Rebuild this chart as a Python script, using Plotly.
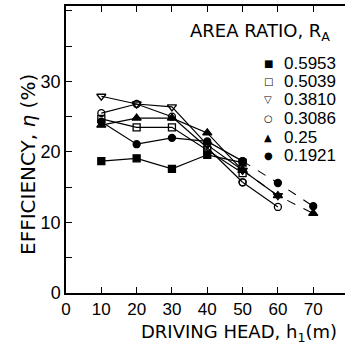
import plotly.graph_objects as go

# ---- data ----
heads = [10, 20, 30, 40, 50, 60, 70]
area_ratio_labels = ["0.5953", "0.5039", "0.3810", "0.3086", "0.25", "0.1921"]
eff_05953 = [18.7, 19.1, 17.6, 19.6, 18.5]
eff_05039 = [24.7, 23.5, 23.5, 20.3, 17.0]
eff_03810 = [27.9, 26.8, 26.4, 21.0, 17.4, 13.8]
eff_03086 = [25.5, 26.8, 25.0, 20.6, 15.7, 12.2]
eff_025 = [23.8, 24.8, 24.8, 22.7, 17.4, 13.8, 11.3]
eff_01921 = [24.3, 21.1, 22.0, 21.5, 18.7, 15.6, 12.3]
x_ticks = [0, 10, 20, 30, 40, 50, 60, 70]
y_ticks = [0, 10, 20, 30]

series = [
    (eff_05953, "square"),
    (eff_05039, "square-open"),
    (eff_03810, "triangle-down-open"),
    (eff_03086, "circle-open"),
    (eff_025, "triangle-up"),
    (eff_01921, "circle"),
]
legend_glyphs = ["■", "□", "▽", "○", "▲", "●"]

W, H = 345, 351
ML, MR, MT, MB = 66, 0, 6, 58
PW, PH = W - ML - MR, H - MT - MB


def px(x):
    return (x - ML) / PW


def py(y):
    return (H - MB - y) / PH


fig = go.Figure()
for vals, sym in series:
    n = len(vals)
    solid_n = min(n, 5)
    msize = 8 if "triangle" in sym else 7
    fig.add_trace(go.Scatter(
        x=heads[:solid_n], y=vals[:solid_n], mode="lines+markers",
        line=dict(color="black", width=1.2),
        marker=dict(symbol=sym, size=msize, color="black",
                    line=dict(color="black", width=1.3)),
        showlegend=False, cliponaxis=False))
    if n > 5:
        is_dashed = vals is eff_025 or vals is eff_01921
        fig.add_trace(go.Scatter(
            x=heads[4:n], y=vals[4:n], mode="lines+markers",
            line=dict(color="black", width=1.1, dash="dash" if is_dashed else "solid"),
            marker=dict(symbol=sym, size=msize, color="black",
                        line=dict(color="black", width=1.3)),
            showlegend=False, cliponaxis=False))

font_main = "Liberation Sans Narrow, Liberation Sans, Arial, sans-serif"

annotations = [
    dict(text="EFFICIENCY, <i>η</i> (%)", xref="paper", yref="paper",
         x=px(28), y=py(165), textangle=-90, showarrow=False,
         font=dict(size=20, color="black", family="DejaVu Sans"),
         xanchor="center", yanchor="middle"),
    dict(text="DRIVING HEAD, h<sub>1</sub>(m)", xref="paper", yref="paper",
         x=px(239), y=py(333), showarrow=False,
         font=dict(size=18, color="black", family="DejaVu Sans"),
         xanchor="center", yanchor="middle"),
    dict(text="AREA RATIO, R<sub>A</sub>", xref="paper", yref="paper",
         x=px(260), y=py(32), showarrow=False,
         font=dict(size=18, color="black", family="DejaVu Sans"),
         xanchor="center", yanchor="middle"),
]
leg_y = [63, 81.5, 100, 118.5, 137, 155.5]
for lab, g, yy in zip(area_ratio_labels, legend_glyphs, leg_y):
    annotations.append(dict(text=g, xref="paper", yref="paper", x=px(268), y=py(yy),
                            showarrow=False, xanchor="center", yanchor="middle",
                            font=dict(size=10, color="black", family="DejaVu Sans")))
    annotations.append(dict(text=lab, xref="paper", yref="paper", x=px(282), y=py(yy),
                            showarrow=False, xanchor="left", yanchor="middle",
                            font=dict(size=17, color="black", family=font_main)))

fig.update_layout(
    width=W, height=H,
    margin=dict(l=ML, r=MR, t=MT, b=MB, pad=0),
    paper_bgcolor="white", plot_bgcolor="white",
    annotations=annotations,
    xaxis=dict(range=[0, 79], tickvals=x_ticks, ticktext=[str(v) for v in x_ticks],
               ticks="inside", ticklen=6, tickwidth=1.2, tickcolor="black",
               showline=True, linecolor="black", linewidth=1.5, mirror="ticks",
               showgrid=False, zeroline=False,
               tickfont=dict(size=17, color="black", family=font_main)),
    yaxis=dict(range=[0, 40.7], tickvals=y_ticks, ticktext=[str(v) for v in y_ticks],
               ticks="inside", ticklen=6, tickwidth=1.2, tickcolor="black",
               minor=dict(dtick=5, tick0=0, ticks="inside", ticklen=6, tickcolor="black", tickwidth=1.2),
               showline=True, linecolor="black", linewidth=1.5, mirror=False,
               showgrid=False, zeroline=False,
               tickfont=dict(size=18, color="black", family=font_main)),
)

fig.write_html("out.html")
